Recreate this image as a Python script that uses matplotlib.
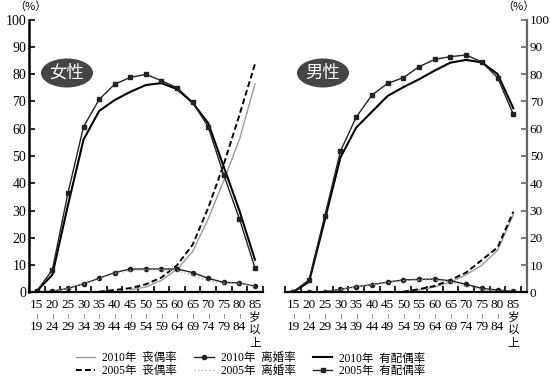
import numpy as np
import matplotlib
matplotlib.use("Agg")
import matplotlib.pyplot as plt
from matplotlib.patches import Ellipse

plt.rcParams['font.family'] = ['Liberation Serif', 'Noto Sans CJK SC', 'DejaVu Sans']

# Age groups
age_top = ['15', '20', '25', '30', '35', '40', '45', '50', '55', '60', '65', '70', '75', '80', '85']
age_bottom = ['19', '24', '29', '34', '39', '44', '49', '54', '59', '64', '69', '74', '79', '84']
nan = np.nan

# Female (%)
f_married_2010 = [0.5, 6.5, 32, 56, 66.5, 70.5, 73.5, 76, 76.7, 74.5, 69.5, 62, 46, 30, 12]
f_married_2005 = [0.5, 8.3, 36.4, 60.7, 70.7, 76.3, 78.8, 79.9, 77.6, 75.0, 69.7, 60.7, 43, 27, 9.0]
f_widow_2010 = [nan, nan, nan, nan, nan, nan, 1.0, 2.0, 4.5, 8.5, 15, 27, 41, 56, 76.4]
f_widow_2005 = [nan, nan, nan, nan, 0.3, 0.9, 1.6, 3.0, 5.5, 10, 17.5, 31, 47, 65, 83.7]
f_divorce_2010 = [0.1, 0.5, 1.5, 3.2, 5.2, 7.3, 8.6, 8.6, 8.6, 8.6, 7.3, 5.2, 3.7, 3.5, 2.3]
f_divorce_2005 = [0.1, 0.4, 1.4, 3.0, 5.0, 7.0, 8.0, 8.3, 8.4, 8.0, 6.2, 4.2, 3.4, 3.3, 2.2]

# Male (%)
m_married_2010 = [0.2, 3.9, 26.5, 49.5, 60.4, 66.2, 72.0, 75.2, 78.1, 81.3, 84.2, 85.2, 84.3, 80.0, 67.5]
m_married_2005 = [0.3, 4.6, 28.0, 51.8, 64.2, 72.3, 76.6, 78.7, 82.7, 85.4, 86.4, 87.0, 84.4, 78.7, 65.3]
m_widow_2010 = [nan, nan, nan, nan, nan, nan, nan, nan, 1.0, 2.0, 3.8, 6.5, 10, 15.5, 28.5]
m_widow_2005 = [nan, nan, nan, nan, nan, nan, nan, 0.3, 1.2, 2.4, 4.6, 7.3, 11.9, 16.5, 29.6]
m_divorce_2010 = [0.0, 0.1, 0.3, 1.2, 2.1, 2.9, 3.8, 4.6, 4.8, 4.9, 4.3, 3.0, 1.5, 0.9, 0.4]
m_divorce_2005 = [0.0, 0.1, 0.3, 1.1, 2.0, 2.8, 3.6, 4.3, 4.6, 4.6, 3.9, 2.2, 1.1, 0.6, 0.3]

x = np.arange(len(age_top))

fig = plt.figure(figsize=(5.51, 3.87), dpi=100)
ax1 = fig.add_axes([0.0526, 0.2442, 0.4243, 0.7054])
ax2 = fig.add_axes([0.5181, 0.2442, 0.4383, 0.7054])


def draw_panel(ax, married10, married05, widow10, widow05, div10, div05):
    ax.plot(x, widow10, color='#9a9a9a', lw=1.0, label='2010年  丧偶率')
    ax.plot(x, widow05, color='black', lw=1.4, ls=(0, (3, 1.6)), label='2005年  丧偶率')
    ax.plot(x, div10, color='#222222', lw=1.0, marker='o', ms=3, label='2010年  离婚率')
    ax.plot(x, div05, color='#aaaaaa', lw=1.0, ls=':', label='2005年  离婚率')
    ax.plot(x, married10, color='black', lw=1.5, label='2010年  有配偶率')
    ax.plot(x, married05, color='#222222', lw=1.0, marker='s', ms=3, label='2005年  有配偶率')
    ax.set_ylim(0, 100)
    ax.set_yticks(np.arange(0, 101, 10))
    ax.set_xticks([])
    ax.set_xticks(np.arange(-0.5, 15, 1), minor=True)
    ax.tick_params(axis='x', which='minor', direction='in', length=4, width=1.2)
    ax.tick_params(axis='y', direction='in', length=4, width=1.2, labelsize=10, pad=2)
    ax.spines['top'].set_visible(False)
    ax.spines['bottom'].set_linewidth(1.6)
    tr = ax.get_xaxis_transform()
    for i, t in enumerate(age_top):
        ax.text(i, -0.045, t, transform=tr, ha='center', va='center', fontsize=9.5)
        if i < len(age_bottom):
            ax.text(i, -0.088, '≀', transform=tr, ha='center', va='center', fontsize=5.5,
                    color='#555555', family='DejaVu Sans')
            ax.text(i, -0.127, age_bottom[i], transform=tr, ha='center', va='center', fontsize=9.5)
    last = len(age_top) - 1
    for yy, ch in [(-0.09, '岁'), (-0.135, '以'), (-0.188, '上')]:
        ax.text(last, yy, ch, transform=tr, ha='center', va='center', fontsize=8.3,
                family='Noto Sans CJK SC')


draw_panel(ax1, f_married_2010, f_married_2005, f_widow_2010, f_widow_2005,
           f_divorce_2010, f_divorce_2005)
draw_panel(ax2, m_married_2010, m_married_2005, m_widow_2010, m_widow_2005,
           m_divorce_2010, m_divorce_2005)

ax1.set_xlim(-0.5, 14.5)
ax1.spines['right'].set_visible(False)
ax1.spines['left'].set_linewidth(1.8)

ax2.set_xlim(-0.5, 14.87)
ax2.spines['left'].set_visible(False)
ax2.spines['right'].set_color('#666666')
ax2.spines['right'].set_linewidth(1.6)
ax2.yaxis.tick_right()
ax2.tick_params(axis='y', colors='#666666', labelcolor='black', labelsize=9.5)

fig.text(30 / 551, 1 - 7 / 387, '（%）', ha='center', va='center', fontsize=8,
         family=['Noto Sans CJK SC'])
fig.text(518 / 551, 1 - 7 / 387, '（%）', ha='center', va='center', fontsize=8,
         family=['Noto Sans CJK SC'])

# badges
for cx, label in [(67, '女性'), (323, '男性')]:
    e = Ellipse((cx / 551, 1 - 73 / 387), 52 / 551, 29 / 387, transform=fig.transFigure,
                facecolor='#454545', edgecolor='none')
    fig.patches.append(e)
    fig.text(cx / 551, 1 - 73 / 387, label, ha='center', va='center', fontsize=12.5,
             color='white', family='Noto Sans CJK SC')

handles, labels = ax1.get_legend_handles_labels()
fig.legend(handles, labels, ncol=3, loc='center', bbox_to_anchor=(0.455, 0.058),
           frameon=False, handlelength=1.7, handletextpad=0.6,
           columnspacing=1.5, labelspacing=0.02, borderpad=0.1,
           prop={'family': ['Liberation Serif', 'Noto Sans CJK SC'], 'size': 8.3})

fig.savefig('out.png', dpi=100)
